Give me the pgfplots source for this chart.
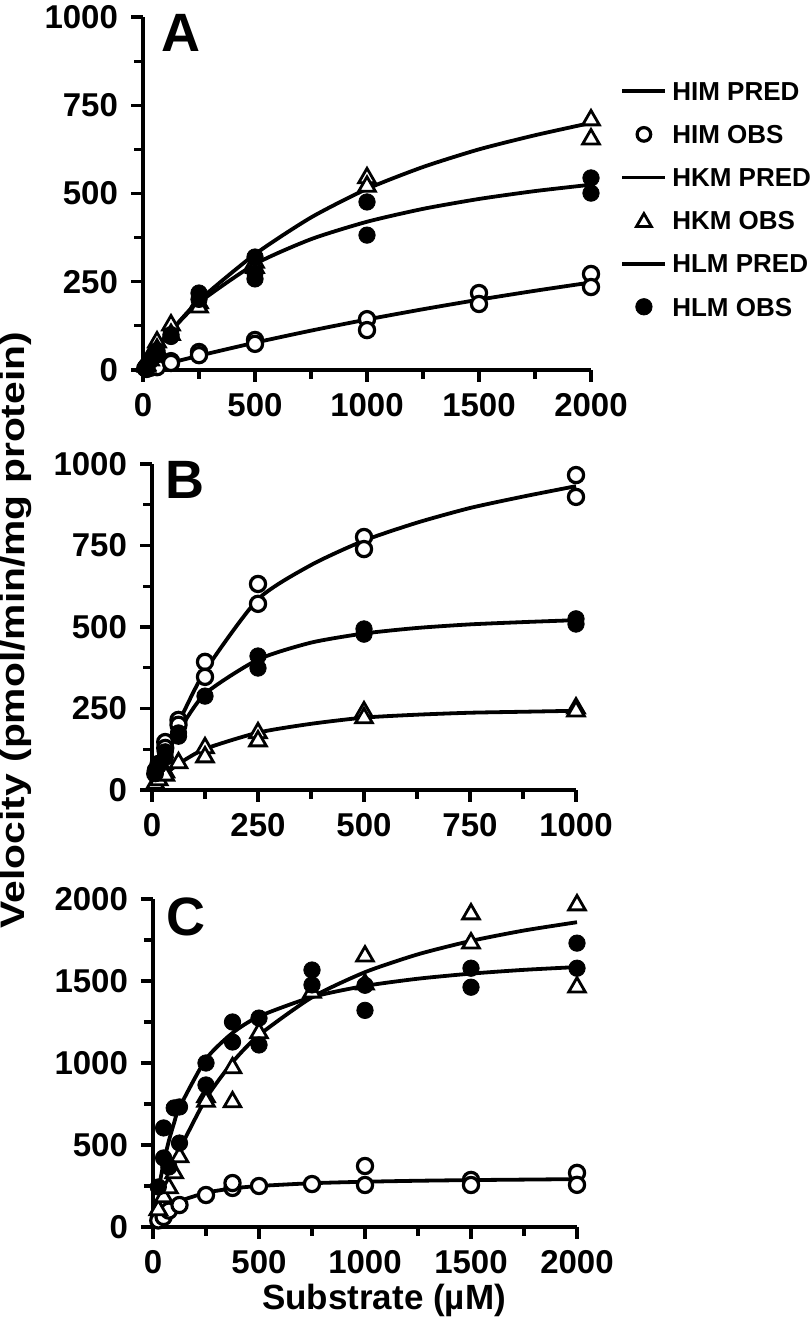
\documentclass[border=0pt]{standalone}
\usepackage{pgfplots}
\pgfplotsset{compat=1.18}
\usepackage{graphicx}
\usepackage{fontspec}
\setmainfont{Liberation Sans}

\tikzset{letter/.style={font=\bfseries\fontsize{27}{30}\selectfont}}
\pgfplotsset{
  panel/.style={
    scale only axis,
    axis lines=left,
    axis line style={-, line width=1.8pt},
    tick align=outside,
    major tick length=6pt,
    minor tick length=4.5pt,
    tick style={black, line width=1.6pt},
    minor x tick num=1, minor y tick num=1,
    tick label style={font=\bfseries\fontsize{16.5}{19}\selectfont},
    yticklabel style={xshift=-3pt},
    xticklabel style={yshift=-2pt},
    /pgf/number format/assume math mode=true,
    /pgf/number format/1000 sep={},
    clip=false,
    xmin=0, ymin=0,
    legend image code/.code={\draw[#1] (0pt,0pt) -- (21.5pt,0pt);},
  },
  pred/.style={black, line width=1.9pt, mark=none, smooth, tension=0.4},
  oc/.style={only marks, mark=*, mark size=3.8pt, mark options={fill=white, draw=black, line width=1.6pt},
    legend image code/.code={\draw[##1, mark size=3.4pt] plot coordinates {(10.75pt,0pt)};}},
  fc/.style={only marks, mark=*, mark size=4.1pt, mark options={fill=black, draw=black},
    legend image code/.code={\draw[##1] plot coordinates {(10.75pt,0pt)};}},
  tr/.style={only marks, mark=triangle*, mark size=4.8pt, mark options={fill=white, draw=black, line width=1.4pt},
    legend image code/.code={\draw[##1, mark size=4.3pt] plot coordinates {(10.75pt,-0.8pt)};}},
}

\begin{document}
\begin{tikzpicture}
\useasboundingbox (0pt,0pt) rectangle (405pt,666pt);

% ---------------- Panel A ----------------
\begin{axis}[panel,
  at={(71.5pt,481pt)}, anchor=south west,
  width=224pt, height=176.5pt,
  xmax=2000, ymax=1000,
  xtick={0,500,1000,1500,2000},
  ytick={0,250,500,750,1000},
  legend style={draw=none, fill=none, at={(1.065,0.817)}, anchor=north west,
    inner sep=0pt, row sep=12.25pt, column sep=2.5pt,
    nodes={inner sep=0pt, text height=9.3pt, text depth=0pt},
    font=\bfseries\fontsize{13}{15}\selectfont},
  legend cell align=left,
]
\addplot[pred] coordinates {(0,0) (15.6,2.6) (31.25,5.3) (62.5,10.4) (125,20.6) (250,40.4) (500,77.4) (750,111.5) (1000,143) (1250,172.1) (1500,199.2) (1750,224.4) (2000,247.9)};
\addlegendentry{HIM PRED}
\addplot[oc] coordinates {(15.6,3) (31.25,6) (62.5,12) (62.5,8) (125,25) (125,20) (250,51) (250,42) (500,85) (500,74) (1000,144) (1000,113) (1500,218) (1500,187) (2000,272) (2000,235)};
\addlegendentry{HIM OBS}
\addplot[pred] coordinates {(0,0) (15.6,15) (31.25,30) (62.5,58) (125,110) (250,197) (500,328) (750,432) (1000,513) (1250,575) (1500,625) (1750,665) (2000,700)};
\addlegendentry{HKM PRED}
\addplot[tr] coordinates {(15.6,14) (15.6,10) (31.25,38) (31.25,28) (62.5,79) (62.5,58) (125,127) (125,100) (250,190) (250,178) (500,305) (500,290) (1000,544) (1000,520) (2000,708) (2000,654)};
\addlegendentry{HKM OBS}
\addplot[pred] coordinates {(0,0) (15.6,16) (31.25,31.3) (62.5,60) (125,110.5) (250,190.8) (500,299.9) (750,370.5) (1000,419.9) (1250,456.4) (1500,484.5) (1750,506.8) (2000,524.9)};
\addlegendentry{HLM PRED}
\addplot[fc] coordinates {(7.8,5) (15.6,12) (31.25,25) (62.5,55) (62.5,45) (125,100) (125,95) (250,218) (250,200) (500,320) (500,275) (500,258) (1000,476) (1000,382) (2000,544) (2000,501)};
\addlegendentry{HLM OBS}
\node[letter] at (rel axis cs:0.085,0.955) {A};
\end{axis}

% ---------------- Panel B ----------------
\begin{axis}[panel,
  at={(76pt,271pt)}, anchor=south west,
  width=212pt, height=163pt,
  xmax=1000, ymax=1000,
  xtick={0,250,500,750,1000},
  ytick={0,250,500,750,1000},
]
\addplot[pred] coordinates {(7.8,45) (15.6,75) (31.25,125) (62.5,206) (125,365) (250,585) (375,690) (500,765) (625,820) (750,865) (875,900) (1000,932)};
\addplot[oc] coordinates {(7.8,50) (15.6,80) (15.6,62) (31.25,147) (31.25,129) (62.5,215) (62.5,200) (125,393) (125,347) (250,632) (250,571) (500,776) (500,739) (1000,966) (1000,899)};
\addplot[pred] coordinates {(7.8,20) (15.6,30) (31.25,48) (62.5,80) (125,126) (250,176) (375,203) (500,222) (625,231) (750,237) (875,240) (1000,243)};
\addplot[tr] coordinates {(7.8,20) (15.6,31) (31.25,55) (31.25,45) (62.5,83) (125,129) (125,101) (250,175) (250,150) (500,239) (500,221) (1000,251) (1000,242)};
\addplot[pred] coordinates {(7.8,45) (15.6,70) (31.25,110) (62.5,180) (125,295) (250,400) (375,452) (500,480) (625,497) (750,508) (875,515) (1000,521)};
\addplot[fc] coordinates {(7.8,61) (7.8,50) (15.6,75) (31.25,117) (31.25,100) (62.5,175) (62.5,165) (125,288) (250,411) (250,374) (500,494) (500,478) (1000,525) (1000,509)};
\node[letter] at (rel axis cs:0.078,0.95) {B};
\end{axis}

% ---------------- Panel C ----------------
\begin{axis}[panel,
  at={(76.5pt,52.5pt)}, anchor=south west,
  width=212pt, height=164pt,
  xmax=2000, ymax=2000,
  xtick={0,500,1000,1500,2000},
  ytick={0,500,1000,1500,2000},
]
\addplot[pred] coordinates {(25,53) (50,91) (75,119) (100,141) (125,158) (250,209) (375,235) (500,250) (750,267) (1000,276) (1250,282) (1500,286) (1750,289) (2000,292)};
\addplot[oc] coordinates {(25,40) (50,61) (75,100) (125,134) (250,195) (375,238) (375,268) (500,250) (750,262) (1000,372) (1000,256) (1500,287) (1500,256) (2000,330) (2000,257)};
\addplot[pred] coordinates {(25,112.7) (50,214.9) (75,308) (100,393.2) (125,471.4) (250,783.2) (375,1004.6) (500,1170) (750,1400.6) (1000,1553.8) (1250,1662.8) (1500,1744.5) (1750,1807.9) (2000,1858.5)};
\addplot[tr] coordinates {(25,104) (50,183) (75,238) (100,329) (125,427) (250,793) (250,765) (375,970) (375,762) (500,1183) (750,1431) (1000,1651) (1000,1480) (1500,1908) (1500,1731) (2000,1963) (2000,1462)};
\addplot[pred] coordinates {(25,220.5) (50,391) (75,526.5) (100,637) (125,729) (250,1024) (375,1183) (500,1284) (750,1402) (1000,1470) (1250,1514) (1500,1545) (1750,1568) (2000,1585)};
\addplot[fc] coordinates {(25,244) (50,604) (50,421) (75,366) (100,726) (125,732) (125,512) (250,1000) (250,866) (375,1250) (375,1128) (500,1274) (500,1110) (750,1567) (750,1476) (1000,1474) (1000,1321) (1500,1578) (1500,1462) (2000,1731) (2000,1578)};
\node[letter] at (rel axis cs:0.078,0.945) {C};
\end{axis}

\node[rotate=90, font=\bfseries\fontsize{17}{20}\selectfont] at (8pt,351pt) {\scalebox{1.2}[1]{Velocity (pmol/min/mg protein)}};
\node[font=\bfseries\fontsize{17.5}{20}\selectfont] at (192pt,16pt) {Substrate (µM)};
\end{tikzpicture}
\end{document}
